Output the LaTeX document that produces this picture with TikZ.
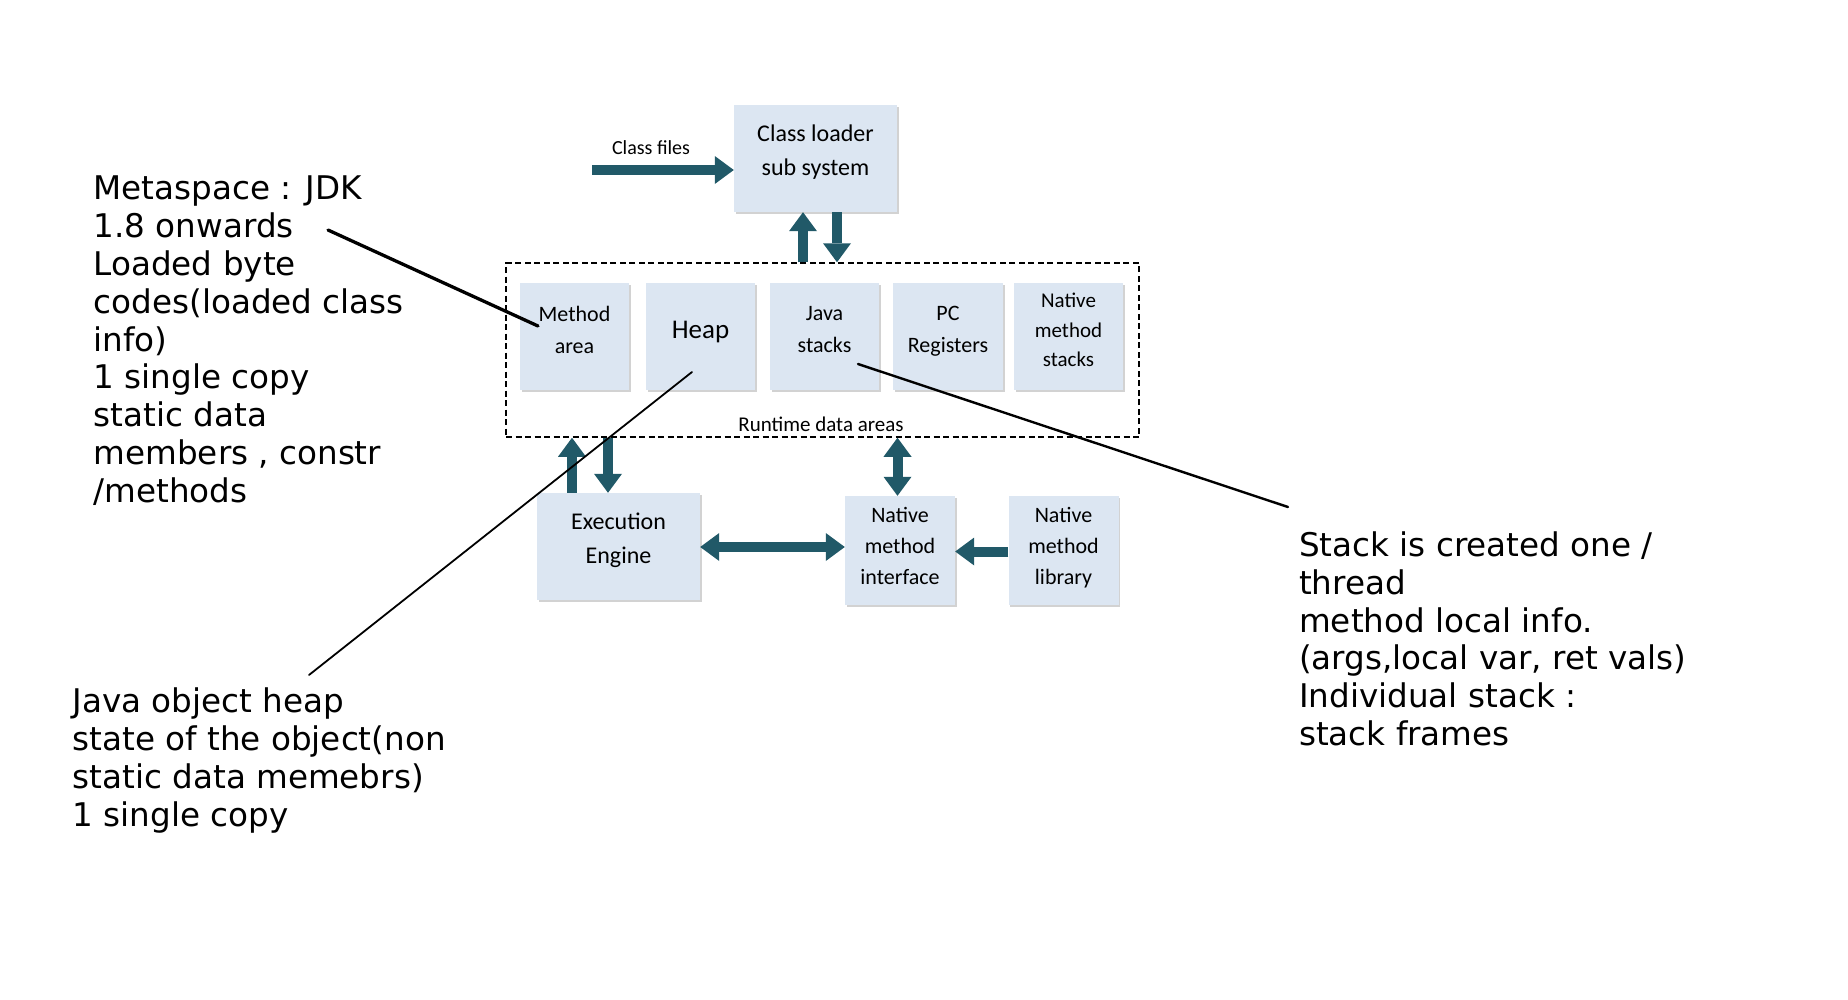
\documentclass[tikz,border=0pt]{standalone}
\usepackage{fontspec}
\usetikzlibrary{arrows.meta,shadows}
\newfontfamily\notefont{DejaVu Sans}
\newfontfamily\boxfont{Carlito}
\definecolor{boxc}{RGB}{220,230,242}
\definecolor{arrowc}{RGB}{33,89,104}
\tikzset{
  box/.style={fill=boxc, inner sep=0pt, align=center,
    drop shadow={shadow xshift=1.5pt, shadow yshift=-2pt, fill=black!35, opacity=.5}},
  fA/.style={font=\boxfont\fontsize{24}{34}\selectfont, text depth=17pt},
  fB/.style={font=\boxfont\fontsize{22}{32}\selectfont, text depth=14pt},
  fD/.style={font=\boxfont\fontsize{22}{31}\selectfont, text depth=9pt},
  fC/.style={font=\boxfont\fontsize{21}{29.5}\selectfont, text depth=13pt},
  fH/.style={font=\boxfont\fontsize{27}{36}\selectfont, text depth=14pt},
  note/.style={font=\notefont\fontsize{32.6}{37.8}\selectfont, align=left, inner sep=0pt, anchor=north west},
  blk/.style={draw=arrowc, line width=10pt, -{Triangle[width=28pt,length=19pt,line width=0pt]}},
  dblk/.style={draw=arrowc, line width=10pt, {Triangle[width=28pt,length=19pt,line width=0pt]}-{Triangle[width=28pt,length=19pt,line width=0pt]}},
  pointer/.style={draw=black, line cap=round},
}
\begin{document}
\begin{tikzpicture}[x=1pt,y=-1pt]
\useasboundingbox (0,0) rectangle (1848,999);

% Runtime data areas container
\node[draw=black, dash pattern=on 6pt off 3.5pt, line width=1.5pt, minimum width=633pt, minimum height=174pt, inner sep=0pt] (rt) at (822.5,350) {};
\node[font=\boxfont\fontsize{21}{25}\selectfont, inner sep=0pt] (rtl) at (821,424) {Runtime data areas};

% boxes
\node[box, fA, minimum width=163pt, minimum height=107pt] (cl) at (815.5,158.5) {Class loader\\sub system};
\node[box, fB, minimum width=109pt, minimum height=107pt] (ma) at (574.5,336.5) {Method\\area};
\node[box, fH, minimum width=109pt, minimum height=107pt] (hp) at (700.5,336.5) {Heap};
\node[box, fB, minimum width=109pt, minimum height=107pt] (js) at (824.5,336.5) {Java\\stacks};
\node[box, fB, minimum width=110pt, minimum height=107pt] (pc) at (948,336.5) {PC\\Registers};
\node[box, fC, minimum width=109pt, minimum height=107pt] (nms) at (1068.5,336.5) {Native\\method\\stacks};
\node[box, fA, minimum width=163pt, minimum height=107pt] (ee) at (618.5,546.5) {Execution\\Engine};
\node[box, fD, minimum width=110pt, minimum height=109pt] (nmi) at (900,550.5) {Native\\method\\interface};
\node[box, fD, minimum width=110pt, minimum height=109pt] (nml) at (1063.5,550.5) {Native\\method\\library};

% class files
\coordinate (cfs) at (592,170);
\node[font=\boxfont\fontsize{20}{24}\selectfont, inner sep=0pt] (cfl) at (651,148) {Class files};
\draw[blk] (cfs) -- (cfs -| cl.west);

% arrow x positions
\coordinate (xa) at (803,0);
\coordinate (xb) at (837,0);
\coordinate (xc) at (572,0);
\coordinate (xd) at (608,0);
\coordinate (xe) at (897.5,0);
\coordinate (ya) at (0,547);
\coordinate (yb) at (0,551.5);

\draw[blk] (rt.north -| xa) -- (cl.south -| xa);
\draw[blk] (cl.south -| xb) -- (rt.north -| xb);
\draw[blk] (ee.north -| xc) -- (rt.south -| xc);
\draw[blk] (rt.south -| xd) -- (ee.north -| xd);
\draw[dblk] (rt.south -| xe) -- (nmi.north -| xe);
\draw[dblk] (ee.east |- ya) -- (nmi.west |- ya);
\draw[blk] (nml.west |- yb) -- (nmi.east |- yb);

% notes
\node[note] (mnote) at (93.5,176) {Metaspace : JDK\\1.8 onwards\\Loaded byte\\codes(loaded class\\info)\\1 single copy\\static data\\members , constr\\/methods};
\node[note] (snote) at (1299,531.5) {Stack is created one /\\thread\\method local info.\\(args,local var, ret vals)\\Individual stack :\\stack frames};
\node[note] (hnote) at (72.5,688) {Java object heap\\state of the object(non\\static data memebrs)\\1 single copy};

% pointer lines
\coordinate (m1) at (328,230);
\coordinate (m2) at (538,326);
\coordinate (h1) at (692,372);
\coordinate (h2) at (309,675);
\coordinate (s1) at (858,364);
\coordinate (s2) at (1288,507);
\draw[pointer, line width=3.3pt] (m1) -- (m2);
\draw[pointer, line width=1.8pt] (h1) -- (h2);
\draw[pointer, line width=2.4pt] (s1) -- (s2);
\end{tikzpicture}
\end{document}
